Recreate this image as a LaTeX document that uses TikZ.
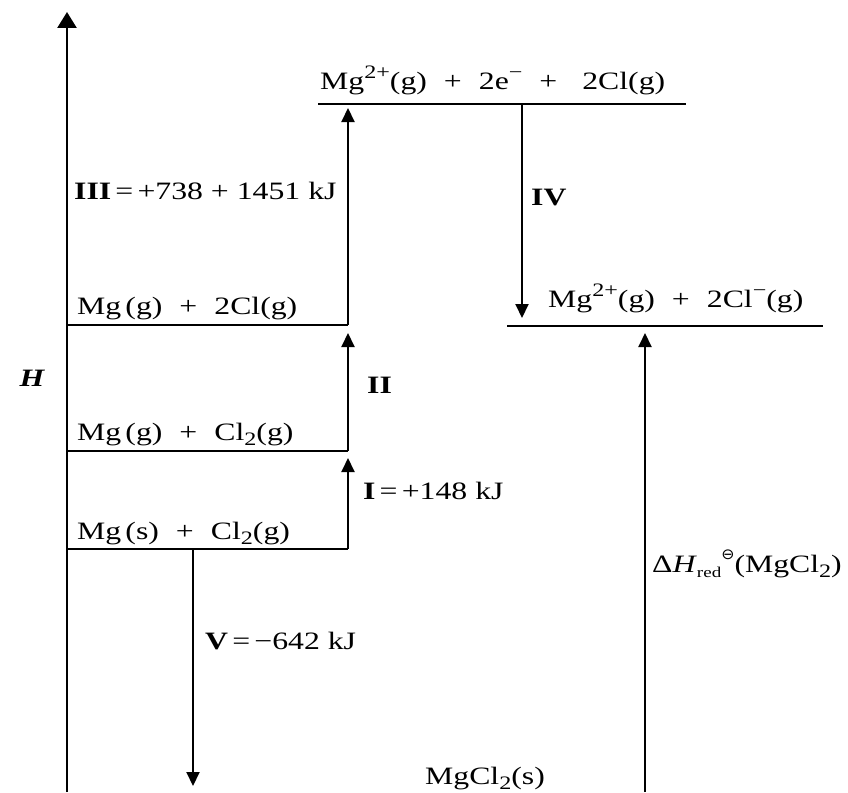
\documentclass[tikz,border=0pt]{standalone}
\usepackage{fontspec}
\setmainfont{Liberation Serif}[FakeStretch=1.27]
\newfontfamily\symfont{DejaVu Sans}[FakeStretch=1.05]
\usetikzlibrary{arrows.meta}
\newcommand\pl{\hspace{0.68em}+\hspace{0.68em}}
\newcommand\sups[1]{\raisebox{0.42em}{\fontsize{19}{21}\selectfont #1}}
\newcommand\subs[1]{\raisebox{-0.22em}{\fontsize{19}{21}\selectfont #1}}
\begin{document}
\begin{tikzpicture}[x=1pt,y=-1pt,
  font=\fontsize{25}{30}\selectfont,
  lvl/.style={line width=2pt},
  arr/.style={line width=2pt,-{Triangle[length=14pt,width=13pt]}},
  axis/.style={line width=2.6pt,-{Triangle[length=16pt,width=19pt]}},
  lab/.style={inner sep=0pt,anchor=base west}]
\useasboundingbox (0,0) rectangle (848,792);
% axis
\coordinate (ax0) at (67,792);
\coordinate (ax1) at (67,12);
\draw[axis] (ax0) -- (ax1);
\node[lab,anchor=base] (H) at (32,386) {\bfseries\itshape H};
% level coordinates
\coordinate (A0) at (67,549); \coordinate (A1) at (348,549);
\coordinate (B0) at (67,451); \coordinate (B1) at (348,451);
\coordinate (C0) at (67,325); \coordinate (C1) at (348,325);
\coordinate (D0) at (318,104); \coordinate (D1) at (686,104);
\coordinate (E0) at (507,326); \coordinate (E1) at (823,326);
\draw[lvl] (A0) -- (A1);
\draw[lvl] (B0) -- (B1);
\draw[lvl] (C0) -- (C1);
\draw[lvl] (D0) -- (D1);
\draw[lvl] (E0) -- (E1);
% level texts
\node[lab] (tA) at (77,539) {Mg\,(s)\pl Cl\subs{2}(g)};
\node[lab] (tB) at (77,440) {Mg\,(g)\pl Cl\subs{2}(g)};
\node[lab] (tC) at (77,314) {Mg\,(g)\pl 2Cl(g)};
\node[lab] (tD) at (320,89) {Mg\sups{2+}(g)\pl 2e\sups{−}\pl\ 2Cl(g)};
\node[lab] (tE) at (548,307) {Mg\sups{2+}(g)\pl 2Cl\sups{−}(g)};
\node[lab] (tF) at (425,784) {MgCl\subs{2}(s)};
% arrow coordinates
\coordinate (Ie) at (348,458);
\coordinate (IIe) at (348,333);
\coordinate (IIIe) at (348,108);
\coordinate (IVs) at (522,104); \coordinate (IVe) at (522,318);
\coordinate (Vs) at (193,549); \coordinate (Ve) at (193,786);
\coordinate (Rs) at (645,792); \coordinate (Re) at (645,333);
\draw[arr] (A1) -- (Ie);
\draw[arr] (B1) -- (IIe);
\draw[arr] (C1) -- (IIIe);
\draw[arr] (IVs) -- (IVe);
\draw[arr] (Vs) -- (Ve);
\draw[arr] (Rs) -- (Re);
% labels
\node[lab] (lIII) at (74,199) {\textbf{III}\,=\,+738 + 1451 kJ};
\node[lab] (lIV) at (531,205) {\textbf{IV}};
\node[lab] (lII) at (367,393) {\textbf{II}};
\node[lab] (lI) at (363,499) {\textbf{I}\,=\,+148 kJ};
\node[lab] (lV) at (205,649) {\textbf{V}\,=\,−642 kJ};
\node[lab] (lR) at (652,572) {Δ\textit{H}\raisebox{-0.2em}{\fontsize{15}{17}\selectfont red}\raisebox{0.5em}{\fontsize{15}{17}\selectfont\symfont ⊖}(MgCl\subs{2})};
\end{tikzpicture}
\end{document}
